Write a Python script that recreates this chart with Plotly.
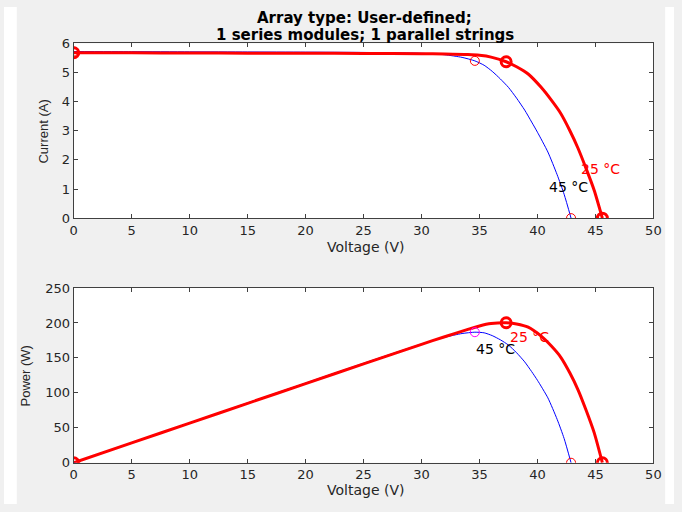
import plotly.graph_objects as go

# ---- data ----
V25 = [0, 5, 10, 15, 20, 25, 30, 32, 34, 35, 36, 37.3, 38.2, 39.2, 40.3, 41.2, 42.0, 42.8, 43.5, 44.2, 44.9, 45.6]
I25 = [5.68, 5.675, 5.67, 5.665, 5.66, 5.655, 5.645, 5.635, 5.615, 5.59, 5.53, 5.37, 5.2, 4.95, 4.5, 4.05, 3.6, 3.0, 2.4, 1.7, 0.95, 0]
P25 = [0, 28.4, 56.7, 85.0, 113.2, 141.4, 169.4, 180.3, 190.9, 195.7, 199.1, 200.3, 198.6, 194.0, 181.4, 166.9, 151.2, 128.4, 104.4, 75.1, 42.7, 0]

V45 = [0, 5, 10, 15, 20, 25, 30, 32, 33.5, 34.6, 35.4, 36.1, 36.8, 37.5, 38.2, 38.9, 39.5, 40.0, 40.9, 41.7, 42.3, 42.9]
I45 = [5.72, 5.715, 5.71, 5.705, 5.70, 5.69, 5.66, 5.61, 5.52, 5.40, 5.25, 5.04, 4.78, 4.49, 4.12, 3.71, 3.3, 2.95, 2.27, 1.49, 0.82, 0]
P45 = [0, 28.6, 57.1, 85.6, 114.0, 142.3, 169.8, 179.5, 184.9, 186.8, 185.9, 181.9, 175.9, 168.4, 157.4, 144.3, 130.4, 118.0, 92.8, 62.1, 34.7, 0]

# key points: short circuit, maximum power, open circuit
KV25 = [0, 37.3, 45.6]
KI25 = [5.68, 5.37, 0]
KP25 = [0, 200.3, 0]
KV45 = [0, 34.6, 42.9]
KI45 = [5.72, 5.40, 0]
KP45 = [0, 186.8, 0]

title_lines = ["Array type: User-defined;", "1 series modules; 1 parallel strings"]
x_ticks = [0, 5, 10, 15, 20, 25, 30, 35, 40, 45, 50]
i_ticks = [0, 1, 2, 3, 4, 5, 6]
p_ticks = [0, 50, 100, 150, 200, 250]

W, H = 682, 512
def px(x):
    return x / W
def py(y):
    return 1 - y / H

fig = go.Figure()

RED = "#ff0000"
BLUE = "#0000ff"

fig.add_trace(go.Scatter(x=V45, y=I45, mode="lines", line=dict(color=BLUE, width=1, shape="spline", smoothing=0.6), xaxis="x", yaxis="y", showlegend=False))
fig.add_trace(go.Scatter(x=V25, y=I25, mode="lines", line=dict(color=RED, width=3, shape="spline", smoothing=0.6), xaxis="x", yaxis="y", showlegend=False))
fig.add_trace(go.Scatter(x=KV45, y=KI45, mode="markers", marker=dict(symbol="circle-open", size=9, color=RED, line=dict(width=1)), xaxis="x", yaxis="y", showlegend=False))
fig.add_trace(go.Scatter(x=KV25, y=KI25, mode="markers", marker=dict(symbol="circle-open", size=10, color=RED, line=dict(width=3)), xaxis="x", yaxis="y", showlegend=False))

fig.add_trace(go.Scatter(x=V45, y=P45, mode="lines", line=dict(color=BLUE, width=1, shape="spline", smoothing=0.6), xaxis="x2", yaxis="y2", showlegend=False))
fig.add_trace(go.Scatter(x=V25, y=P25, mode="lines", line=dict(color=RED, width=3, shape="spline", smoothing=0.6), xaxis="x2", yaxis="y2", showlegend=False))
fig.add_trace(go.Scatter(x=KV45, y=KP45, mode="markers", marker=dict(symbol="circle-open", size=9, color=[RED, "#ff00ff", RED], line=dict(width=1)), xaxis="x2", yaxis="y2", showlegend=False))
fig.add_trace(go.Scatter(x=KV25, y=KP25, mode="markers", marker=dict(symbol="circle-open", size=10, color=RED, line=dict(width=3)), xaxis="x2", yaxis="y2", showlegend=False))

AX = "#404040"
TF = dict(family="DejaVu Sans", size=13, color="#262626")
common = dict(showline=True, linecolor=AX, linewidth=1, mirror="ticks", ticks="inside",
              ticklen=4, tickcolor=AX, tickfont=TF, showgrid=False, zeroline=False, fixedrange=True)

xd = [px(71), px(661)]
fig.update_layout(
    width=W, height=H, autosize=False,
    margin=dict(l=0, r=0, t=0, b=0),
    paper_bgcolor="#f0f0f0", plot_bgcolor="white",
    xaxis=dict(domain=xd, range=[0, 50], tickvals=x_ticks, anchor="y", **common),
    yaxis=dict(domain=[py(217.5), py(37.5)], range=[0, 6], tickvals=i_ticks, anchor="x", **common),
    xaxis2=dict(domain=xd, range=[0, 50], tickvals=x_ticks, anchor="y2", **common),
    yaxis2=dict(domain=[py(469.5), py(289.5)], range=[0, 250], tickvals=p_ticks, anchor="x2", **common),
    shapes=[
        dict(type="rect", xref="paper", yref="paper", x0=0, x1=px(13), y0=0, y1=1, fillcolor="white", line=dict(width=0), layer="below"),
        dict(type="rect", xref="paper", yref="paper", x0=px(673), x1=1, y0=0, y1=1, fillcolor="white", line=dict(width=0), layer="below"),
    ],
)

ann = []
TTF = dict(family="DejaVu Sans", size=15, color="#000000")
ann.append(dict(text="<b>" + title_lines[0] + "</b>", x=px(367), y=py(11), xref="paper", yref="paper",
                showarrow=False, xanchor="center", yanchor="middle", font=TTF))
ann.append(dict(text="<b>" + title_lines[1] + "</b>", x=px(367), y=py(28.5), xref="paper", yref="paper",
                showarrow=False, xanchor="center", yanchor="middle", font=TTF))
LF = dict(family="DejaVu Sans", size=14, color="#262626")
ann.append(dict(text="Voltage (V)", x=px(368), y=py(247), xref="paper", yref="paper", showarrow=False, xanchor="center", yanchor="middle", font=LF))
ann.append(dict(text="Voltage (V)", x=px(368), y=py(498), xref="paper", yref="paper", showarrow=False, xanchor="center", yanchor="middle", font=LF))
RF = dict(family="Liberation Sans", size=13, color="#262626")
ann.append(dict(text="Current (A)", x=px(40), y=py(128), xref="paper", yref="paper", showarrow=False, textangle=-90, xanchor="center", yanchor="middle", font=RF))
ann.append(dict(text="Power (W)", x=px(22), y=py(380), xref="paper", yref="paper", showarrow=False, textangle=-90, xanchor="center", yanchor="middle", font=RF))

# temperature labels
TL = 14
ann.append(dict(text="25 °C", x=45.4, y=1.67, xref="x", yref="y", showarrow=False, font=dict(family="DejaVu Sans", size=TL, color=RED)))
ann.append(dict(text="45 °C", x=42.7, y=1.07, xref="x", yref="y", showarrow=False, font=dict(family="DejaVu Sans", size=TL, color="#000000")))
ann.append(dict(text="25 °C", x=39.3, y=180, xref="x2", yref="y2", showarrow=False, font=dict(family="DejaVu Sans", size=TL, color=RED)))
ann.append(dict(text="45 °C", x=36.4, y=163, xref="x2", yref="y2", showarrow=False, font=dict(family="DejaVu Sans", size=TL, color="#000000")))
fig.update_layout(annotations=ann)

js = (
    "document.documentElement.style.margin='0';"
    "document.documentElement.style.padding='0';"
    "document.documentElement.style.overflow='hidden';"
    "document.body.style.margin='0';"
    "document.body.style.padding='0';"
    "document.body.style.overflow='hidden';"
    "var d=document.getElementById('{plot_id}');"
    "d.style.position='fixed';d.style.left='0px';d.style.top='0px';"
)
fig.write_html("out.html", config={"displayModeBar": False}, post_script=js)
